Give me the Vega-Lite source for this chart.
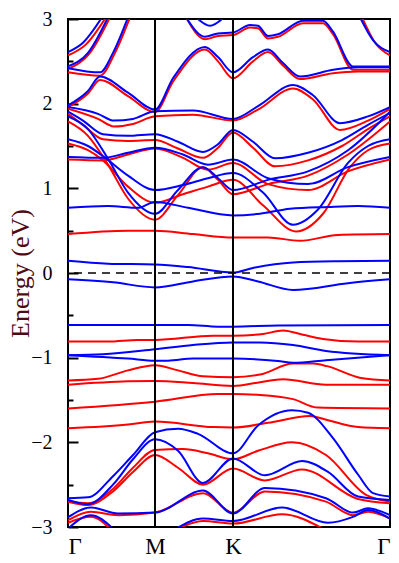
{
"$schema": "https://vega.github.io/schema/vega-lite/v6.json",
"autosize": "none",
"width": 322, "height": 508,
"padding": {"left": 68, "top": 19, "right": 9, "bottom": 36},
"background": "white",
"config": {"view": {"stroke": "black", "strokeWidth": 2}},
"datasets": {
"bands": [
{"b":"B1","s":"b","k":0,"e":2.61},{"b":"B1","s":"b","k":15,"e":2.72},{"b":"B1","s":"b","k":34,"e":3.02},
{"b":"B2","s":"b","k":0,"e":2.44},{"b":"B2","s":"b","k":20,"e":2.6},{"b":"B2","s":"b","k":40,"e":3.02},
{"b":"B3","s":"b","k":0,"e":2.42},{"b":"B3","s":"b","k":32,"e":2.37},{"b":"B3","s":"b","k":45,"e":2.6},{"b":"B3","s":"b","k":60,"e":3.02},
{"b":"B4","s":"b","k":0,"e":1.98},{"b":"B4","s":"b","k":20,"e":2.15},{"b":"B4","s":"b","k":32,"e":2.32},{"b":"B4","s":"b","k":60,"e":2.13},{"b":"B4","s":"b","k":87,"e":1.93},{"b":"B4","s":"b","k":105,"e":2.3},{"b":"B4","s":"b","k":137,"e":2.67},{"b":"B4","s":"b","k":150,"e":2.55},{"b":"B4","s":"b","k":165,"e":2.37},{"b":"B4","s":"b","k":185,"e":2.55},{"b":"B4","s":"b","k":200,"e":2.64},{"b":"B4","s":"b","k":215,"e":2.48},{"b":"B4","s":"b","k":232,"e":2.32},{"b":"B4","s":"b","k":265,"e":2.40},{"b":"B4","s":"b","k":290,"e":2.43},{"b":"B4","s":"b","k":322,"e":2.43},
{"b":"B5","s":"b","k":0,"e":1.96},{"b":"B5","s":"b","k":30,"e":1.88},{"b":"B5","s":"b","k":46,"e":1.80},{"b":"B5","s":"b","k":65,"e":1.82},{"b":"B5","s":"b","k":87,"e":1.91},{"b":"B5","s":"b","k":125,"e":1.92},{"b":"B5","s":"b","k":165,"e":1.82},{"b":"B5","s":"b","k":190,"e":1.97},{"b":"B5","s":"b","k":225,"e":2.22},{"b":"B5","s":"b","k":245,"e":2.1},{"b":"B5","s":"b","k":272,"e":1.77},{"b":"B5","s":"b","k":300,"e":1.85},{"b":"B5","s":"b","k":322,"e":1.96},
{"b":"B6","s":"b","k":118,"e":3.02},{"b":"B6","s":"b","k":137,"e":2.79},{"b":"B6","s":"b","k":150,"e":2.83},{"b":"B6","s":"b","k":165,"e":2.84},{"b":"B6","s":"b","k":182,"e":2.93},{"b":"B6","s":"b","k":190,"e":2.92},{"b":"B6","s":"b","k":200,"e":2.80},{"b":"B6","s":"b","k":210,"e":2.82},{"b":"B6","s":"b","k":235,"e":2.98},{"b":"B6","s":"b","k":255,"e":2.98},{"b":"B6","s":"b","k":265,"e":2.85},{"b":"B6","s":"b","k":285,"e":2.44},{"b":"B6","s":"b","k":322,"e":2.44},
{"b":"B7","s":"b","k":292,"e":3.02},{"b":"B7","s":"b","k":305,"e":2.75},{"b":"B7","s":"b","k":322,"e":2.61},
{"b":"B8","s":"b","k":128,"e":3.02},{"b":"B8","s":"b","k":142,"e":2.92},{"b":"B8","s":"b","k":156,"e":3.02},
{"b":"B9","s":"b","k":0,"e":1.905},{"b":"B9","s":"b","k":15,"e":1.80},{"b":"B9","s":"b","k":35,"e":1.64},{"b":"B9","s":"b","k":60,"e":1.62},{"b":"B9","s":"b","k":87,"e":1.64},{"b":"B9","s":"b","k":110,"e":1.55},{"b":"B9","s":"b","k":135,"e":1.43},{"b":"B9","s":"b","k":150,"e":1.52},{"b":"B9","s":"b","k":165,"e":1.69},{"b":"B9","s":"b","k":185,"e":1.55},{"b":"B9","s":"b","k":207,"e":1.355},{"b":"B9","s":"b","k":240,"e":1.42},{"b":"B9","s":"b","k":274,"e":1.57},{"b":"B9","s":"b","k":300,"e":1.75},{"b":"B9","s":"b","k":322,"e":1.89},
{"b":"B10","s":"b","k":0,"e":1.58},{"b":"B10","s":"b","k":20,"e":1.50},{"b":"B10","s":"b","k":35,"e":1.38},{"b":"B10","s":"b","k":60,"e":1.15},{"b":"B10","s":"b","k":87,"e":0.98},{"b":"B10","s":"b","k":115,"e":1.04},{"b":"B10","s":"b","k":140,"e":1.12},{"b":"B10","s":"b","k":165,"e":1.18},{"b":"B10","s":"b","k":195,"e":0.95},{"b":"B10","s":"b","k":225,"e":0.57},{"b":"B10","s":"b","k":250,"e":0.75},{"b":"B10","s":"b","k":280,"e":1.30},{"b":"B10","s":"b","k":300,"e":1.50},{"b":"B10","s":"b","k":322,"e":1.58},
{"b":"B11","s":"b","k":0,"e":1.37},{"b":"B11","s":"b","k":35,"e":1.36},{"b":"B11","s":"b","k":60,"e":1.42},{"b":"B11","s":"b","k":87,"e":1.48},{"b":"B11","s":"b","k":115,"e":1.40},{"b":"B11","s":"b","k":140,"e":1.28},{"b":"B11","s":"b","k":165,"e":1.34},{"b":"B11","s":"b","k":200,"e":1.12},{"b":"B11","s":"b","k":240,"e":1.05},{"b":"B11","s":"b","k":280,"e":1.25},{"b":"B11","s":"b","k":322,"e":1.37},
{"b":"B12","s":"b","k":0,"e":1.85},{"b":"B12","s":"b","k":20,"e":1.70},{"b":"B12","s":"b","k":40,"e":1.35},{"b":"B12","s":"b","k":60,"e":0.95},{"b":"B12","s":"b","k":87,"e":0.70},{"b":"B12","s":"b","k":110,"e":0.98},{"b":"B12","s":"b","k":135,"e":1.25},{"b":"B12","s":"b","k":150,"e":1.12},{"b":"B12","s":"b","k":165,"e":0.98},{"b":"B12","s":"b","k":200,"e":1.10},{"b":"B12","s":"b","k":240,"e":1.20},{"b":"B12","s":"b","k":280,"e":1.45},{"b":"B12","s":"b","k":322,"e":1.905},
{"b":"B13","s":"b","k":0,"e":0.77},{"b":"B13","s":"b","k":40,"e":0.79},{"b":"B13","s":"b","k":70,"e":0.77},{"b":"B13","s":"b","k":87,"e":0.84},{"b":"B13","s":"b","k":120,"e":0.77},{"b":"B13","s":"b","k":165,"e":0.68},{"b":"B13","s":"b","k":192,"e":0.70},{"b":"B13","s":"b","k":222,"e":0.76},{"b":"B13","s":"b","k":260,"e":0.78},{"b":"B13","s":"b","k":290,"e":0.79},{"b":"B13","s":"b","k":322,"e":0.77},
{"b":"BL1","s":"b","k":0,"e":0.145},{"b":"BL1","s":"b","k":40,"e":0.11},{"b":"BL1","s":"b","k":87,"e":0.10},{"b":"BL1","s":"b","k":120,"e":0.07},{"b":"BL1","s":"b","k":165,"e":0.005},{"b":"BL1","s":"b","k":185,"e":0.06},{"b":"BL1","s":"b","k":225,"e":0.125},{"b":"BL1","s":"b","k":270,"e":0.14},{"b":"BL1","s":"b","k":322,"e":0.145},
{"b":"BL2","s":"b","k":0,"e":-0.075},{"b":"BL2","s":"b","k":45,"e":-0.11},{"b":"BL2","s":"b","k":87,"e":-0.17},{"b":"BL2","s":"b","k":125,"e":-0.10},{"b":"BL2","s":"b","k":165,"e":-0.04},{"b":"BL2","s":"b","k":190,"e":-0.10},{"b":"BL2","s":"b","k":225,"e":-0.20},{"b":"BL2","s":"b","k":280,"e":-0.12},{"b":"BL2","s":"b","k":322,"e":-0.075},
{"b":"BL3","s":"b","k":0,"e":-0.614},{"b":"BL3","s":"b","k":120,"e":-0.614},{"b":"BL3","s":"b","k":150,"e":-0.634},{"b":"BL3","s":"b","k":165,"e":-0.634},{"b":"BL3","s":"b","k":210,"e":-0.62},{"b":"BL3","s":"b","k":322,"e":-0.614},
{"b":"BL4","s":"b","k":0,"e":-0.97},{"b":"BL4","s":"b","k":35,"e":-0.96},{"b":"BL4","s":"b","k":87,"e":-0.90},{"b":"BL4","s":"b","k":125,"e":-0.85},{"b":"BL4","s":"b","k":165,"e":-0.82},{"b":"BL4","s":"b","k":192,"e":-0.82},{"b":"BL4","s":"b","k":225,"e":-0.85},{"b":"BL4","s":"b","k":258,"e":-0.92},{"b":"BL4","s":"b","k":322,"e":-0.97},
{"b":"BL5","s":"b","k":0,"e":-0.97},{"b":"BL5","s":"b","k":60,"e":-1.01},{"b":"BL5","s":"b","k":87,"e":-1.035},{"b":"BL5","s":"b","k":100,"e":-1.035},{"b":"BL5","s":"b","k":125,"e":-1.01},{"b":"BL5","s":"b","k":165,"e":-1.01},{"b":"BL5","s":"b","k":210,"e":-1.04},{"b":"BL5","s":"b","k":225,"e":-1.06},{"b":"BL5","s":"b","k":258,"e":-1.03},{"b":"BL5","s":"b","k":322,"e":-0.97},
{"b":"BL6","s":"b","k":0,"e":-2.66},{"b":"BL6","s":"b","k":20,"e":-2.65},{"b":"BL6","s":"b","k":45,"e":-2.4},{"b":"BL6","s":"b","k":65,"e":-2.15},{"b":"BL6","s":"b","k":87,"e":-1.88},{"b":"BL6","s":"b","k":110,"e":-1.84},{"b":"BL6","s":"b","k":130,"e":-1.9},{"b":"BL6","s":"b","k":165,"e":-2.13},{"b":"BL6","s":"b","k":190,"e":-1.8},{"b":"BL6","s":"b","k":224,"e":-1.62},{"b":"BL6","s":"b","k":240,"e":-1.65},{"b":"BL6","s":"b","k":265,"e":-1.95},{"b":"BL6","s":"b","k":290,"e":-2.38},{"b":"BL6","s":"b","k":305,"e":-2.6},{"b":"BL6","s":"b","k":322,"e":-2.64},
{"b":"BL7","s":"b","k":0,"e":-2.68},{"b":"BL7","s":"b","k":20,"e":-2.73},{"b":"BL7","s":"b","k":45,"e":-2.5},{"b":"BL7","s":"b","k":65,"e":-2.2},{"b":"BL7","s":"b","k":87,"e":-1.965},{"b":"BL7","s":"b","k":110,"e":-2.1},{"b":"BL7","s":"b","k":135,"e":-2.48},{"b":"BL7","s":"b","k":165,"e":-2.19},{"b":"BL7","s":"b","k":197,"e":-2.39},{"b":"BL7","s":"b","k":234,"e":-2.22},{"b":"BL7","s":"b","k":260,"e":-2.35},{"b":"BL7","s":"b","k":290,"e":-2.64},{"b":"BL7","s":"b","k":322,"e":-2.68},
{"b":"BL8","s":"b","k":0,"e":-2.885},{"b":"BL8","s":"b","k":23,"e":-2.77},{"b":"BL8","s":"b","k":50,"e":-2.84},{"b":"BL8","s":"b","k":87,"e":-2.83},{"b":"BL8","s":"b","k":135,"e":-2.57},{"b":"BL8","s":"b","k":165,"e":-2.84},{"b":"BL8","s":"b","k":197,"e":-2.54},{"b":"BL8","s":"b","k":258,"e":-2.66},{"b":"BL8","s":"b","k":285,"e":-2.83},{"b":"BL8","s":"b","k":300,"e":-2.78},{"b":"BL8","s":"b","k":322,"e":-2.86},
{"b":"BL9","s":"b","k":0,"e":-3.02},{"b":"BL9","s":"b","k":23,"e":-2.86},{"b":"BL9","s":"b","k":45,"e":-3.02},
{"b":"BL10","s":"b","k":108,"e":-3.02},{"b":"BL10","s":"b","k":135,"e":-2.90},{"b":"BL10","s":"b","k":165,"e":-2.93},{"b":"BL10","s":"b","k":214,"e":-2.77},{"b":"BL10","s":"b","k":260,"e":-2.95},{"b":"BL10","s":"b","k":285,"e":-2.88},{"b":"BL10","s":"b","k":300,"e":-2.80},{"b":"BL10","s":"b","k":322,"e":-2.90},
{"b":"R1","s":"r","k":0,"e":2.57},{"b":"R1","s":"r","k":18,"e":2.70},{"b":"R1","s":"r","k":38,"e":3.02},
{"b":"R2","s":"r","k":0,"e":2.41},{"b":"R2","s":"r","k":22,"e":2.6},{"b":"R2","s":"r","k":42,"e":3.02},
{"b":"R3","s":"r","k":0,"e":2.37},{"b":"R3","s":"r","k":32,"e":2.33},{"b":"R3","s":"r","k":47,"e":2.6},{"b":"R3","s":"r","k":62,"e":3.02},
{"b":"R4","s":"r","k":0,"e":1.96},{"b":"R4","s":"r","k":20,"e":2.12},{"b":"R4","s":"r","k":32,"e":2.28},{"b":"R4","s":"r","k":60,"e":2.09},{"b":"R4","s":"r","k":87,"e":1.90},{"b":"R4","s":"r","k":105,"e":2.26},{"b":"R4","s":"r","k":137,"e":2.64},{"b":"R4","s":"r","k":150,"e":2.50},{"b":"R4","s":"r","k":165,"e":2.30},{"b":"R4","s":"r","k":185,"e":2.50},{"b":"R4","s":"r","k":200,"e":2.61},{"b":"R4","s":"r","k":215,"e":2.45},{"b":"R4","s":"r","k":232,"e":2.29},{"b":"R4","s":"r","k":265,"e":2.36},{"b":"R4","s":"r","k":290,"e":2.38},{"b":"R4","s":"r","k":322,"e":2.38},
{"b":"R5","s":"r","k":0,"e":1.94},{"b":"R5","s":"r","k":30,"e":1.82},{"b":"R5","s":"r","k":46,"e":1.73},{"b":"R5","s":"r","k":65,"e":1.76},{"b":"R5","s":"r","k":87,"e":1.85},{"b":"R5","s":"r","k":125,"e":1.87},{"b":"R5","s":"r","k":165,"e":1.80},{"b":"R5","s":"r","k":190,"e":1.93},{"b":"R5","s":"r","k":225,"e":2.18},{"b":"R5","s":"r","k":245,"e":2.05},{"b":"R5","s":"r","k":272,"e":1.69},{"b":"R5","s":"r","k":300,"e":1.80},{"b":"R5","s":"r","k":322,"e":1.94},
{"b":"R6","s":"r","k":118,"e":3.02},{"b":"R6","s":"r","k":137,"e":2.76},{"b":"R6","s":"r","k":150,"e":2.80},{"b":"R6","s":"r","k":165,"e":2.81},{"b":"R6","s":"r","k":182,"e":2.90},{"b":"R6","s":"r","k":190,"e":2.89},{"b":"R6","s":"r","k":200,"e":2.77},{"b":"R6","s":"r","k":210,"e":2.79},{"b":"R6","s":"r","k":235,"e":2.95},{"b":"R6","s":"r","k":255,"e":2.95},{"b":"R6","s":"r","k":265,"e":2.82},{"b":"R6","s":"r","k":285,"e":2.40},{"b":"R6","s":"r","k":322,"e":2.40},
{"b":"R7","s":"r","k":294,"e":3.02},{"b":"R7","s":"r","k":307,"e":2.72},{"b":"R7","s":"r","k":322,"e":2.57},
{"b":"R9","s":"r","k":0,"e":1.88},{"b":"R9","s":"r","k":15,"e":1.75},{"b":"R9","s":"r","k":35,"e":1.58},{"b":"R9","s":"r","k":60,"e":1.56},{"b":"R9","s":"r","k":87,"e":1.57},{"b":"R9","s":"r","k":110,"e":1.47},{"b":"R9","s":"r","k":135,"e":1.36},{"b":"R9","s":"r","k":150,"e":1.48},{"b":"R9","s":"r","k":165,"e":1.66},{"b":"R9","s":"r","k":185,"e":1.48},{"b":"R9","s":"r","k":207,"e":1.26},{"b":"R9","s":"r","k":240,"e":1.33},{"b":"R9","s":"r","k":274,"e":1.50},{"b":"R9","s":"r","k":300,"e":1.70},{"b":"R9","s":"r","k":322,"e":1.85},
{"b":"R10","s":"r","k":0,"e":1.53},{"b":"R10","s":"r","k":20,"e":1.45},{"b":"R10","s":"r","k":35,"e":1.33},{"b":"R10","s":"r","k":60,"e":1.02},{"b":"R10","s":"r","k":87,"e":0.83},{"b":"R10","s":"r","k":115,"e":0.93},{"b":"R10","s":"r","k":140,"e":1.02},{"b":"R10","s":"r","k":165,"e":1.10},{"b":"R10","s":"r","k":195,"e":0.80},{"b":"R10","s":"r","k":228,"e":0.49},{"b":"R10","s":"r","k":255,"e":0.7},{"b":"R10","s":"r","k":282,"e":1.25},{"b":"R10","s":"r","k":300,"e":1.45},{"b":"R10","s":"r","k":322,"e":1.53},
{"b":"R11","s":"r","k":0,"e":1.34},{"b":"R11","s":"r","k":35,"e":1.33},{"b":"R11","s":"r","k":60,"e":1.40},{"b":"R11","s":"r","k":87,"e":1.47},{"b":"R11","s":"r","k":115,"e":1.36},{"b":"R11","s":"r","k":140,"e":1.22},{"b":"R11","s":"r","k":165,"e":1.30},{"b":"R11","s":"r","k":200,"e":1.05},{"b":"R11","s":"r","k":240,"e":0.98},{"b":"R11","s":"r","k":280,"e":1.2},{"b":"R11","s":"r","k":322,"e":1.34},
{"b":"R12","s":"r","k":0,"e":1.79},{"b":"R12","s":"r","k":20,"e":1.62},{"b":"R12","s":"r","k":40,"e":1.28},{"b":"R12","s":"r","k":60,"e":0.88},{"b":"R12","s":"r","k":87,"e":0.63},{"b":"R12","s":"r","k":110,"e":0.92},{"b":"R12","s":"r","k":135,"e":1.25},{"b":"R12","s":"r","k":150,"e":1.10},{"b":"R12","s":"r","k":165,"e":0.93},{"b":"R12","s":"r","k":200,"e":1.05},{"b":"R12","s":"r","k":240,"e":1.15},{"b":"R12","s":"r","k":280,"e":1.40},{"b":"R12","s":"r","k":322,"e":1.79},
{"b":"RL1","s":"r","k":0,"e":0.46},{"b":"RL1","s":"r","k":60,"e":0.50},{"b":"RL1","s":"r","k":87,"e":0.50},{"b":"RL1","s":"r","k":125,"e":0.46},{"b":"RL1","s":"r","k":165,"e":0.42},{"b":"RL1","s":"r","k":200,"e":0.42},{"b":"RL1","s":"r","k":232,"e":0.38},{"b":"RL1","s":"r","k":270,"e":0.45},{"b":"RL1","s":"r","k":322,"e":0.46},
{"b":"RL2","s":"r","k":0,"e":-0.81},{"b":"RL2","s":"r","k":40,"e":-0.81},{"b":"RL2","s":"r","k":70,"e":-0.79},{"b":"RL2","s":"r","k":87,"e":-0.79},{"b":"RL2","s":"r","k":145,"e":-0.74},{"b":"RL2","s":"r","k":165,"e":-0.74},{"b":"RL2","s":"r","k":195,"e":-0.72},{"b":"RL2","s":"r","k":215,"e":-0.68},{"b":"RL2","s":"r","k":235,"e":-0.73},{"b":"RL2","s":"r","k":255,"e":-0.78},{"b":"RL2","s":"r","k":290,"e":-0.81},{"b":"RL2","s":"r","k":322,"e":-0.81},
{"b":"RL3","s":"r","k":0,"e":-1.27},{"b":"RL3","s":"r","k":30,"e":-1.25},{"b":"RL3","s":"r","k":60,"e":-1.15},{"b":"RL3","s":"r","k":87,"e":-1.09},{"b":"RL3","s":"r","k":110,"e":-1.15},{"b":"RL3","s":"r","k":135,"e":-1.22},{"b":"RL3","s":"r","k":165,"e":-1.23},{"b":"RL3","s":"r","k":192,"e":-1.2},{"b":"RL3","s":"r","k":225,"e":-1.07},{"b":"RL3","s":"r","k":245,"e":-1.07},{"b":"RL3","s":"r","k":259,"e":-1.10},{"b":"RL3","s":"r","k":293,"e":-1.24},{"b":"RL3","s":"r","k":322,"e":-1.27},
{"b":"RL4","s":"r","k":0,"e":-1.32},{"b":"RL4","s":"r","k":60,"e":-1.28},{"b":"RL4","s":"r","k":87,"e":-1.275},{"b":"RL4","s":"r","k":125,"e":-1.30},{"b":"RL4","s":"r","k":165,"e":-1.335},{"b":"RL4","s":"r","k":192,"e":-1.29},{"b":"RL4","s":"r","k":215,"e":-1.255},{"b":"RL4","s":"r","k":258,"e":-1.32},{"b":"RL4","s":"r","k":322,"e":-1.32},
{"b":"RL5","s":"r","k":0,"e":-1.60},{"b":"RL5","s":"r","k":87,"e":-1.52},{"b":"RL5","s":"r","k":150,"e":-1.43},{"b":"RL5","s":"r","k":165,"e":-1.43},{"b":"RL5","s":"r","k":192,"e":-1.44},{"b":"RL5","s":"r","k":225,"e":-1.49},{"b":"RL5","s":"r","k":250,"e":-1.59},{"b":"RL5","s":"r","k":322,"e":-1.60},
{"b":"RL6","s":"r","k":0,"e":-1.835},{"b":"RL6","s":"r","k":60,"e":-1.79},{"b":"RL6","s":"r","k":87,"e":-1.755},{"b":"RL6","s":"r","k":145,"e":-1.82},{"b":"RL6","s":"r","k":165,"e":-1.825},{"b":"RL6","s":"r","k":200,"e":-1.77},{"b":"RL6","s":"r","k":242,"e":-1.69},{"b":"RL6","s":"r","k":260,"e":-1.74},{"b":"RL6","s":"r","k":290,"e":-1.82},{"b":"RL6","s":"r","k":322,"e":-1.835},
{"b":"RL7","s":"r","k":0,"e":-2.70},{"b":"RL7","s":"r","k":20,"e":-2.72},{"b":"RL7","s":"r","k":45,"e":-2.55},{"b":"RL7","s":"r","k":65,"e":-2.3},{"b":"RL7","s":"r","k":87,"e":-2.09},{"b":"RL7","s":"r","k":115,"e":-2.08},{"b":"RL7","s":"r","k":140,"e":-2.13},{"b":"RL7","s":"r","k":165,"e":-2.2},{"b":"RL7","s":"r","k":190,"e":-2.1},{"b":"RL7","s":"r","k":224,"e":-2.0},{"b":"RL7","s":"r","k":258,"e":-2.15},{"b":"RL7","s":"r","k":298,"e":-2.62},{"b":"RL7","s":"r","k":322,"e":-2.70},
{"b":"RL8","s":"r","k":0,"e":-2.70},{"b":"RL8","s":"r","k":20,"e":-2.74},{"b":"RL8","s":"r","k":45,"e":-2.58},{"b":"RL8","s":"r","k":65,"e":-2.35},{"b":"RL8","s":"r","k":87,"e":-2.15},{"b":"RL8","s":"r","k":110,"e":-2.3},{"b":"RL8","s":"r","k":135,"e":-2.50},{"b":"RL8","s":"r","k":165,"e":-2.31},{"b":"RL8","s":"r","k":197,"e":-2.45},{"b":"RL8","s":"r","k":234,"e":-2.32},{"b":"RL8","s":"r","k":290,"e":-2.67},{"b":"RL8","s":"r","k":322,"e":-2.72},
{"b":"RL9","s":"r","k":0,"e":-2.92},{"b":"RL9","s":"r","k":23,"e":-2.82},{"b":"RL9","s":"r","k":50,"e":-2.86},{"b":"RL9","s":"r","k":87,"e":-2.83},{"b":"RL9","s":"r","k":135,"e":-2.60},{"b":"RL9","s":"r","k":165,"e":-2.83},{"b":"RL9","s":"r","k":197,"e":-2.58},{"b":"RL9","s":"r","k":258,"e":-2.70},{"b":"RL9","s":"r","k":285,"e":-2.86},{"b":"RL9","s":"r","k":300,"e":-2.82},{"b":"RL9","s":"r","k":322,"e":-2.90},
{"b":"RL10","s":"r","k":0,"e":-2.95},{"b":"RL10","s":"r","k":23,"e":-2.88},{"b":"RL10","s":"r","k":42,"e":-3.02},
{"b":"RL11","s":"r","k":110,"e":-3.02},{"b":"RL11","s":"r","k":135,"e":-2.93},{"b":"RL11","s":"r","k":165,"e":-2.96},{"b":"RL11","s":"r","k":214,"e":-2.85},{"b":"RL11","s":"r","k":255,"e":-3.02}
],
"sym": [{"k": 87}, {"k": 165}]
},
"resolve": {"axis": {"x": "independent", "y": "independent"}},
"layer": [
{"data": {"name": "bands"}, "transform": [{"filter": "datum.s == 'r'"}],
 "mark": {"type": "line", "interpolate": "monotone", "strokeWidth": 2, "clip": true, "color": "#ff0000"},
 "encoding": {
  "x": {"field": "k", "type": "quantitative", "scale": {"domain": [0, 322], "nice": false, "zero": false},
   "axis": {"values": [0, 87, 165, 322], "labelExpr": "datum.value == 87 ? 'M' : datum.value == 165 ? 'K' : 'Γ'", "ticks": false, "domain": false, "grid": false, "labelFlush": true, "labelFont": "Liberation Serif", "labelFontSize": 23, "labelColor": "black", "labelPadding": 8, "title": null}},
  "y": {"field": "e", "type": "quantitative", "scale": {"domain": [-3, 3], "nice": false, "zero": false},
   "axis": {"orient": "left", "values": [-3, -2, -1, 0, 1, 2, 3], "grid": false, "domain": false, "tickSize": -10, "tickWidth": 2, "tickColor": "black", "labelPadding": 26, "labelFont": "Liberation Serif", "labelFontSize": 20, "labelColor": "black", "title": "Energy (eV)", "titleFont": "Liberation Serif", "titleFontSize": 26, "titleFontWeight": "normal", "titleColor": "#500a14", "titlePadding": -3}},
  "detail": {"field": "b"}
 }},
{"data": {"name": "bands"}, "transform": [{"filter": "datum.s == 'b'"}],
 "mark": {"type": "line", "interpolate": "monotone", "strokeWidth": 2, "clip": true, "color": "#0000ff"},
 "encoding": {
  "x": {"field": "k", "type": "quantitative", "axis": null},
  "y": {"field": "e", "type": "quantitative", "axis": null},
  "detail": {"field": "b"}
 }},
{"data": {"name": "sym"}, "mark": {"type": "rule", "color": "black", "strokeWidth": 2},
 "encoding": {"x": {"field": "k", "type": "quantitative", "axis": null}}},
{"data": {"values": [{"z": 0}]}, "mark": {"type": "rule", "color": "black", "strokeWidth": 1.5, "strokeDash": [8, 6]},
 "encoding": {"y": {"field": "z", "type": "quantitative",
   "axis": {"orient": "left", "values": [-2.5, -1.5, -0.5, 0.5, 1.5, 2.5], "labels": false, "grid": false, "domain": false, "tickSize": -5, "tickWidth": 2, "tickColor": "black", "title": null}}}}
]
}
